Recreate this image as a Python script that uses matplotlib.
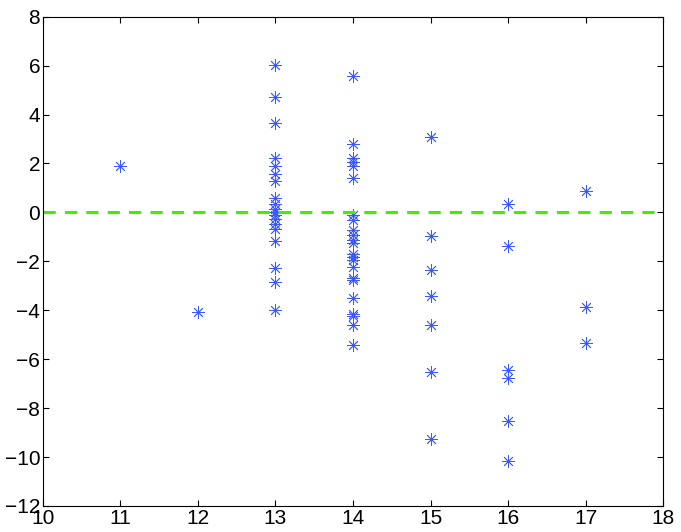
import matplotlib
matplotlib.use('Agg')
import matplotlib.pyplot as plt
import numpy as np

# residuals per x group
x11 = [1.89]
x12 = [-4.08]
x13 = [6.02, 4.73, 3.64, 2.23, 1.91, 1.57, 1.28, 0.57, 0.34, 0.16, 0.02, -0.11,
       -0.25, -0.48, -0.68, -1.17, -2.27, -2.86, -3.97]
x14 = [5.59, 2.78, 2.21, 2.07, 1.89, 1.39, -0.11, -0.29, -0.72, -0.93, -1.13,
       -1.24, -1.68, -1.82, -1.95, -2.25, -2.70, -2.77, -3.48, -4.16, -4.24,
       -4.61, -5.43]
x15 = [3.08, -0.97, -2.36, -3.42, -4.61, -6.53, -9.27]
x16 = [0.34, -1.38, -6.45, -6.78, -8.54, -10.17]
x17 = [0.87, -3.88, -5.35]

groups = {11: x11, 12: x12, 13: x13, 14: x14, 15: x15, 16: x16, 17: x17}

plt.rcParams['font.family'] = ['Liberation Sans', 'DejaVu Sans']

fig = plt.figure(figsize=(6.81, 5.32), dpi=100)
ax = fig.add_axes([0.0631, 0.0489, 0.9105, 0.9197])

xs = []
ys = []
for k, v in groups.items():
    xs += [k] * len(v)
    ys += v

ax.plot(xs, ys, linestyle='none', marker=(8, 2, 0), markersize=9,
        markeredgewidth=0.6, color='#3a5aff')
ax.plot([10, 18], [0, 0], '--', color='#44ee00', linewidth=2.2, dashes=(4, 3))

ax.set_xlim(10, 18)
ax.set_ylim(-12, 8)
ax.set_xticks(np.arange(10, 19, 1))
ax.set_yticks(np.arange(-12, 9, 2))
ax.tick_params(direction='in', top=True, right=True, labelsize=15, length=4, pad=2)
for s in ax.spines.values():
    s.set_linewidth(0.8)

fig.savefig('out.png', dpi=100)
